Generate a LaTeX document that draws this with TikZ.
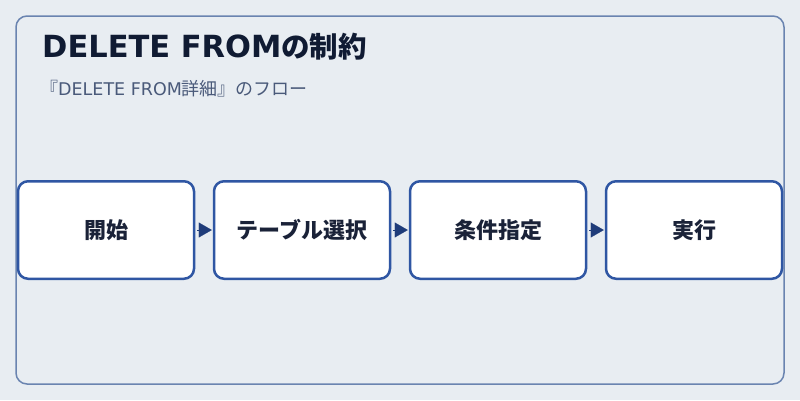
\documentclass[tikz,border=0pt]{standalone}
\usepackage{fontspec}
\setmainfont{Noto Sans CJK JP}
\newfontfamily\latinfont{DejaVu Sans}
\usetikzlibrary{arrows.meta}

\definecolor{bgcol}{HTML}{E8EDF2}
\definecolor{framecol}{HTML}{6A84B0}
\definecolor{boxcol}{HTML}{2F56A3}
\definecolor{arrowcol}{HTML}{1F3C7A}
\definecolor{titlecol}{HTML}{101B33}
\definecolor{subcol}{HTML}{4A5A7A}
\definecolor{textcol}{HTML}{1A2238}

\begin{document}
\begin{tikzpicture}[x=1pt,y=-1pt,
  stepbox/.style={draw=boxcol,line width=2.5pt,fill=white,rounded corners=10pt,
    minimum width=176pt,minimum height=97.5pt,inner sep=0pt,
    text=textcol,font=\fontsize{22}{26}\selectfont\bfseries},
  flow/.style={draw=arrowcol,line width=0.1pt,
    -{Triangle[length=13pt,width=15pt,fill=arrowcol]},shorten <=2pt,shorten >=1pt}]

\useasboundingbox (0,0) rectangle (800,400);
\fill[bgcol] (0,0) rectangle (800,400);
\draw[framecol,line width=1.5pt,rounded corners=11pt] (16,16) rectangle (784,384);

\node[anchor=base west,text=titlecol,font=\fontsize{28.5}{32}\selectfont\bfseries,inner sep=0pt]
  (title) at (42,57.5) {{\latinfont\bfseries\fontsize{30.5}{32}\selectfont DELETE FROM}の制約};
\node[anchor=base west,text=subcol,font=\fontsize{18}{20}\selectfont,inner sep=0pt]
  (subtitle) at (40,95.5) {『{\latinfont\fontsize{17.5}{20}\selectfont DELETE FROM}詳細』のフロー};

% flow boxes
\node[stepbox] (start)  at (106,230) {開始};
\node[stepbox] (table)  at (302,230) {テーブル選択};
\node[stepbox] (cond)   at (498,230) {条件指定};
\node[stepbox] (exec)   at (694,230) {実行};

\draw[flow] (start) -- (table);
\draw[flow] (table) -- (cond);
\draw[flow] (cond) -- (exec);

\end{tikzpicture}
\end{document}
